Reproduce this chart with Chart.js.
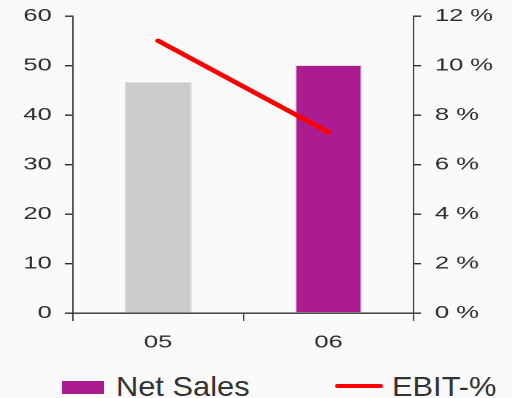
<!DOCTYPE html>
<html>
<head>
<meta charset="utf-8">
<script src="https://cdn.jsdelivr.net/npm/chart.js@4/dist/chart.umd.min.js"></script>
<style>
    html, body {
        margin: 0;
        padding: 0;
        background: #fafafa;
    }
    .wrap {
        position: relative;
        width: 512px;
        height: 398px;
        overflow: hidden;
    }
    /* chart is drawn narrow and widened, the axis type is wide in this style */
    .chart-box {
        position: absolute;
        left: 0;
        top: 0;
        width: 351px;
        height: 360px;
        transform: scaleX(1.4587);
        transform-origin: 0 0;
    }
    #legend .item {
        position: absolute;
        top: 373px;
        height: 28px;
        font-family: 'Liberation Sans', Arial, sans-serif;
        font-size: 28px;
        line-height: 28px;
        color: #333;
        white-space: nowrap;
    }
    #legend .swatch {
        position: absolute;
    }
    #legend .text {
        position: absolute;
        transform: scaleX(1.1);
        transform-origin: 0 0;
    }
    #legend .item:nth-child(1) { left: 62px; }
    #legend .item:nth-child(1) .swatch { left: 0; top: 8px; width: 42px; height: 13px; }
    #legend .item:nth-child(1) .text { left: 54px; }
    #legend .item:nth-child(2) { left: 335px; }
    #legend .item:nth-child(2) .swatch { left: 0; top: 11px; width: 48px; height: 4px; border-radius: 2px; }
    #legend .item:nth-child(2) .text { left: 57px; }
</style>
</head>
<body>
<div class="wrap">
    <div class="chart-box"><canvas id="myChart"></canvas></div>
    <div id="legend"></div>
</div>
<script>
const years = ['05', '06'];
const netSales = [46.7, 50.1];
const ebitPct = [11.0, 7.3];
const barColors = ['#cccccc', '#ab1c91'];
const leftTicks = [0, 10, 20, 30, 40, 50, 60];
const rightTicks = [0, 2, 4, 6, 8, 10, 12];

const axisColor = '#2e2e2e';
const tickFont = { family: "'Liberation Sans', Arial, sans-serif", size: 17.5 };

// legend is built as html so its type keeps normal proportions
const htmlLegend = {
    id: 'htmlLegend',
    afterUpdate(chart) {
        const box = document.getElementById('legend');
        box.innerHTML = '';
        chart.data.datasets.forEach((ds) => {
            const item = document.createElement('div');
            item.className = 'item';
            const swatch = document.createElement('span');
            swatch.className = 'swatch';
            // bars take the colour of the latest year
            const color = Array.isArray(ds.backgroundColor)
                ? ds.backgroundColor[ds.backgroundColor.length - 1]
                : ds.borderColor;
            swatch.style.background = color;
            const text = document.createElement('span');
            text.className = 'text';
            text.textContent = ds.label;
            item.appendChild(swatch);
            item.appendChild(text);
            box.appendChild(item);
        });
    },
};

// fixed axis width, and no extra room above/below for the end labels
function fitSide(width) {
    return (scale) => {
        scale.width = width;
        scale.paddingTop = 0;
        scale.paddingBottom = 0;
    };
}

const ctx = document.getElementById('myChart').getContext('2d');
const myChart = new Chart(ctx, {
    type: 'bar',
    data: {
        labels: years,
        datasets: [
            {
                type: 'bar',
                label: 'Net Sales',
                data: netSales,
                yAxisID: 'y',
                backgroundColor: barColors,
                borderColor: '#dedede',
                borderWidth: 1,
                barPercentage: 0.394,
                categoryPercentage: 1,
                order: 1,
            },
            {
                type: 'line',
                label: 'EBIT-%',
                data: ebitPct,
                yAxisID: 'y1',
                borderColor: '#ff0000',
                backgroundColor: '#ff0000',
                borderWidth: 4.2,
                borderCapStyle: 'round',
                pointRadius: 0,
                fill: false,
                order: 0,
            },
        ],
    },
    options: {
        responsive: true,
        maintainAspectRatio: false,
        devicePixelRatio: 2,
        animation: false,
        layout: {
            padding: { top: 16, left: 0, right: 0, bottom: 0 },
        },
        scales: {
            x: {
                offset: true,
                grid: {
                    offset: true,
                    drawOnChartArea: false,
                    drawTicks: true,
                    tickLength: 8,
                    color: axisColor,
                    lineWidth: 0.9,
                },
                border: { display: true, color: axisColor, width: 1.4 },
                ticks: { font: tickFont, color: axisColor, padding: 11 },
                afterFit: (scale) => { scale.height = 47; },
            },
            y: {
                position: 'left',
                min: 0,
                max: 60,
                afterBuildTicks: (scale) => { scale.ticks = leftTicks.map((v) => ({ value: v })); },
                grid: {
                    drawOnChartArea: false,
                    tickLength: 5.5,
                    color: axisColor,
                    lineWidth: 1.4,
                },
                border: { display: true, color: axisColor, width: 0.9 },
                ticks: { font: tickFont, color: axisColor, padding: 9 },
                afterFit: fitSide(50),
            },
            y1: {
                position: 'right',
                min: 0,
                max: 12,
                afterBuildTicks: (scale) => { scale.ticks = rightTicks.map((v) => ({ value: v })); },
                grid: {
                    drawOnChartArea: false,
                    tickLength: 5,
                    color: axisColor,
                    lineWidth: 1.4,
                },
                border: { display: true, color: axisColor, width: 0.9 },
                ticks: {
                    font: tickFont,
                    color: axisColor,
                    padding: 9.5,
                    callback: (value) => `${value} %`,
                },
                afterFit: fitSide(67.4),
            },
        },
        plugins: {
            legend: { display: false },
            tooltip: { enabled: false },
        },
    },
    plugins: [htmlLegend],
});
</script>
</body>
</html>
